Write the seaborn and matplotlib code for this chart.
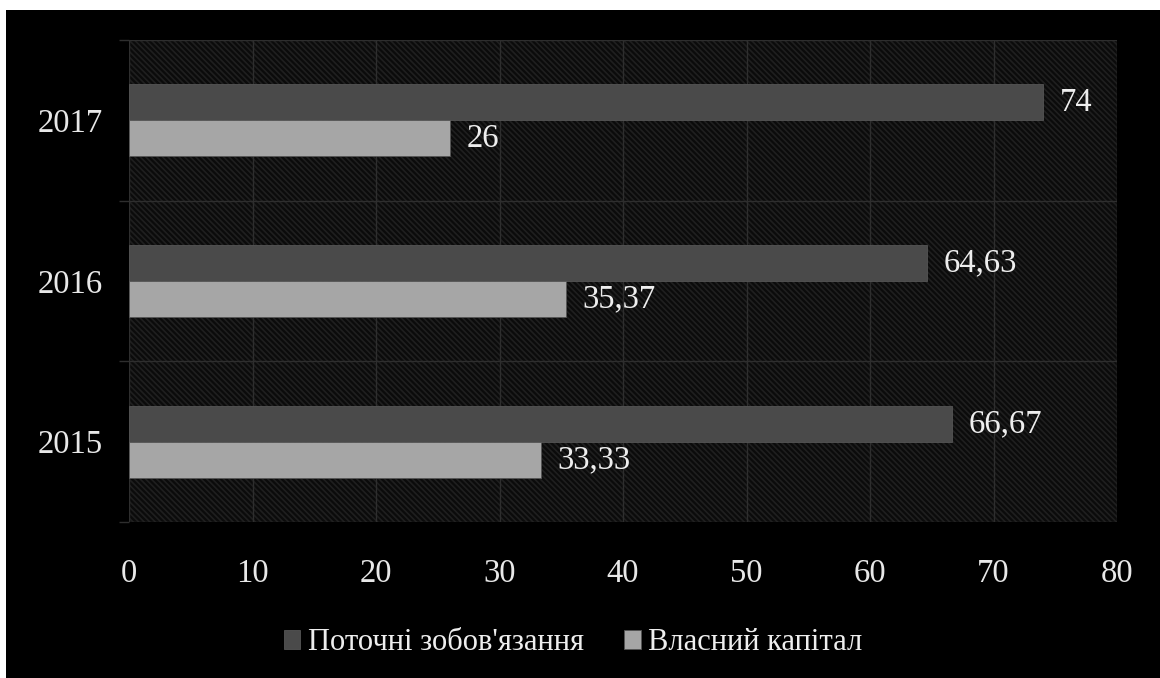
import matplotlib
matplotlib.use("Agg")
import matplotlib.pyplot as plt
from matplotlib.patches import Rectangle
import seaborn as sns
import pandas as pd

years = ["2017", "2016", "2015"]
liabilities = [74, 64.63, 66.67]
equity = [26, 35.37, 33.33]
series_names = ["Поточні зобов'язання", "Власний капітал"]
x_ticks = [0, 10, 20, 30, 40, 50, 60, 70, 80]

df = pd.DataFrame({
    "year": years * 2,
    "value": liabilities + equity,
    "series": [series_names[0]] * len(years) + [series_names[1]] * len(years),
})

sns.set_theme(style="dark")
plt.rcParams["font.family"] = ["Liberation Serif", "DejaVu Serif"]
plt.rcParams["hatch.linewidth"] = 1.2

W, H = 1160, 678
FS = 23.5

fig = plt.figure(figsize=(W / 100, H / 100), dpi=100, facecolor="white")
# black panel behind the chart, leaving a thin white margin
fig.patches.append(Rectangle((6 / W, 0), 1, 1 - 10 / H, transform=fig.transFigure,
                             facecolor="black", edgecolor="none", zorder=-10))

ax = fig.add_axes([129 / W, 1 - 522 / H, (1117 - 129) / W, (522 - 40) / H])
ax.set_facecolor("#0b0b0b")
ax.add_patch(Rectangle((0, 0), 1, 1, transform=ax.transAxes, facecolor="#0b0b0b",
                       edgecolor="#1f1f1f", hatch="\\\\\\\\\\\\", lw=0, zorder=0))

palette = {series_names[0]: "#4a4a4a", series_names[1]: "#a6a6a6"}
sns.barplot(data=df, x="value", y="year", hue="series", order=years,
            hue_order=series_names, palette=palette, orient="h", width=0.45,
            saturation=1, edgecolor="#555555", linewidth=0.6, ax=ax, legend=True)

for cont in ax.containers:
    ax.bar_label(cont, fmt=lambda v: f"{v:g}".replace(".", ","), padding=12,
                 color="#eeeeee", fontsize=FS)

ax.set_xlim(0, 80)
ax.set_ylim(2.5, -0.5)
ax.set_xticks(x_ticks)
ax.set_xticklabels([str(t) for t in x_ticks])
ax.set_yticks([0, 1, 2])
ax.set_yticks([-0.5, 0.5, 1.5, 2.5], minor=True)
ax.set_xlabel("")
ax.set_ylabel("")

ax.set_axisbelow(True)
ax.grid(True, axis="x", color="#2e2e2e", linewidth=1)
ax.grid(True, axis="y", which="minor", color="#2e2e2e", linewidth=1)
ax.grid(False, axis="y", which="major")

ax.tick_params(axis="x", colors="#e8e8e8", labelsize=FS, length=0, pad=26)
ax.tick_params(axis="y", which="major", colors="#e8e8e8", labelsize=FS, length=0, pad=19)
ax.tick_params(axis="y", which="minor", color="#2e2e2e", length=7, width=1, left=True)
for s in ax.spines.values():
    s.set_visible(False)

handles, labels = ax.get_legend_handles_labels()
ax.get_legend().remove()
fig.legend(handles, labels, loc="center", bbox_to_anchor=(573 / W, 1 - 643 / H),
           ncol=2, frameon=False, fontsize=22, handlelength=0.55,
           handleheight=0.55, handletextpad=0.25, columnspacing=1.3,
           labelcolor="#eeeeee")

fig.savefig("out.png", dpi=100, facecolor=fig.get_facecolor())
